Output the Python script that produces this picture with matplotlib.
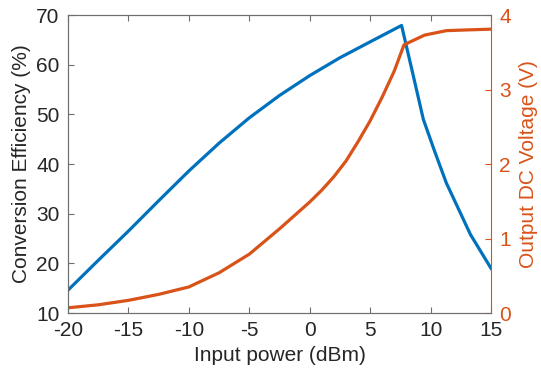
import matplotlib
matplotlib.use("Agg")
import matplotlib.pyplot as plt

plt.rcParams['font.family'] = ['Liberation Sans', 'DejaVu Sans']
plt.rcParams['axes.unicode_minus'] = False

# conversion efficiency (%) vs input power (dBm)
eff_x = [-20, -17.5, -15, -12.5, -10, -7.5, -5, -2.5, 0, 2.5, 5, 7.6,
         8.5, 9.4, 10.3, 11.3, 12.3, 13.3, 14.2, 15]
eff_y = [14.6, 20.6, 26.5, 32.6, 38.6, 44.2, 49.3, 53.8, 57.8, 61.4, 64.6, 67.9,
         58.5, 49.0, 42.8, 36.2, 31.0, 25.8, 22.2, 19.0]

# output DC voltage (V) vs input power (dBm)
vdc_x = [-20, -17.5, -15, -12.5, -10, -7.5, -5, -2.5, 0, 1, 2, 3, 4, 5, 6, 7, 7.8,
         9.5, 11.3, 13, 15]
vdc_y = [0.07, 0.11, 0.17, 0.25, 0.35, 0.54, 0.79, 1.13, 1.49, 1.65, 1.83, 2.04, 2.3,
         2.58, 2.9, 3.25, 3.6, 3.73, 3.79, 3.80, 3.81]

blue = '#0072BD'
orange = '#D95319'
grey = '#6e6e6e'
txt = '#262626'

fig = plt.figure(figsize=(5.41, 3.82), dpi=100)
ax = fig.add_axes([0.1257, 0.1806, 0.7819, 0.7801])
ax2 = ax.twinx()

ax.plot(eff_x, eff_y, color=blue, lw=2.3)
ax2.plot(vdc_x, vdc_y, color=orange, lw=2.3)

ax.set_xlim(-20, 15)
ax.set_ylim(10, 70)
ax2.set_ylim(0, 4)
ax.set_xticks(range(-20, 16, 5))
ax.set_yticks(range(10, 71, 10))
ax2.set_yticks([0, 1, 2, 3, 4])

fs = 15
ax.set_xlabel('Input power (dBm)', fontsize=fs, color=txt, labelpad=4)
ax.set_ylabel('Conversion Efficiency (%)', fontsize=fs, color=txt, labelpad=4)
ax2.set_ylabel('Output DC Voltage (V)', fontsize=fs, color=orange, labelpad=6)

ax.tick_params(axis='both', direction='in', labelsize=fs, colors=grey, labelcolor=txt,
               length=4, width=0.8, top=True, right=False, pad=6)
ax2.tick_params(axis='y', direction='in', labelsize=fs, colors=orange, labelcolor=orange,
                length=4, width=0.8, pad=6)

for s in ['left', 'top', 'bottom']:
    ax2.spines[s].set_color(grey)
    ax.spines[s].set_color(grey)
ax2.spines['right'].set_color(orange)
ax.spines['right'].set_visible(False)

fig.savefig('out.png', dpi=100)
